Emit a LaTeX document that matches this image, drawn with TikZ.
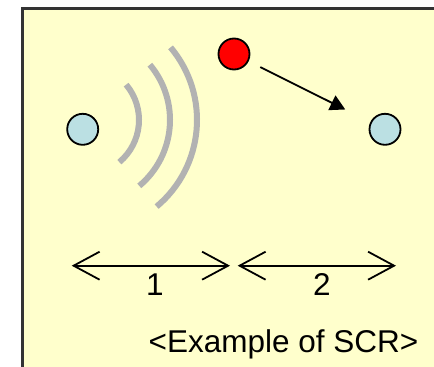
\documentclass[tikz,border=0pt]{standalone}
\usepackage{fontspec}
\setmainfont{Liberation Sans}
\usetikzlibrary{arrows.meta}
\definecolor{panel}{HTML}{FFFFCC}
\definecolor{station}{HTML}{BBE0E3}
\definecolor{wave}{HTML}{B2B2B2}
\definecolor{frameline}{HTML}{333333}
\tikzset{
  dot/.style={circle, draw=black, line width=1.8pt, minimum size=31pt, inner sep=0pt},
  wavearc/.style={draw=wave, line width=6pt},
  span/.style={line width=1.8pt, {Straight Barb[length=26pt,width=28pt,line width=1.8pt]}-{Straight Barb[length=26pt,width=28pt,line width=1.8pt]}},
  move/.style={line width=1.8pt, -{Triangle[length=15pt,width=16pt]}},
  lbl/.style={font=\fontsize{31.5}{38}\selectfont, inner sep=0pt, anchor=base}
}
\begin{document}
\begin{tikzpicture}[x=1pt, y=-1pt]
\useasboundingbox (0,0) rectangle (434,367);
\clip (0,0) rectangle (434,367);
\fill[white] (0,0) rectangle (434,367);
\draw[fill=panel, draw=frameline, line width=2.5pt] (22.5,8.5) rectangle (450,390);
% waves
\draw[wavearc] (84,120) ++(50:55) arc[start angle=50, end angle=-40, radius=55];
\draw[wavearc] (84,120) ++(50:86) arc[start angle=50, end angle=-40, radius=86];
\draw[wavearc] (84,120) ++(50:113) arc[start angle=50, end angle=-40, radius=113];
% stations
\node[dot, fill=station] (left) at (82.7,129.3) {};
\node[dot, fill=station] (right) at (385,129.3) {};
\node[dot, fill=red] (mover) at (234,54) {};
\draw[move, shorten <=13pt, shorten >=28pt] (mover) -- (right);
% spans
\coordinate (s1a) at (71.7,265.7);
\coordinate (s1b) at (230,265.7);
\coordinate (s2a) at (237.7,265.7);
\coordinate (s2b) at (396,265.7);
\draw[span] (s1a) -- (s1b);
\draw[span] (s2a) -- (s2b);
\node[lbl] (one) at (155,295) {1};
\node[lbl] (two) at (322,295) {2};
\node[lbl] (caption) at (283.5,352.7) {<Example of SCR>};
\end{tikzpicture}
\end{document}
